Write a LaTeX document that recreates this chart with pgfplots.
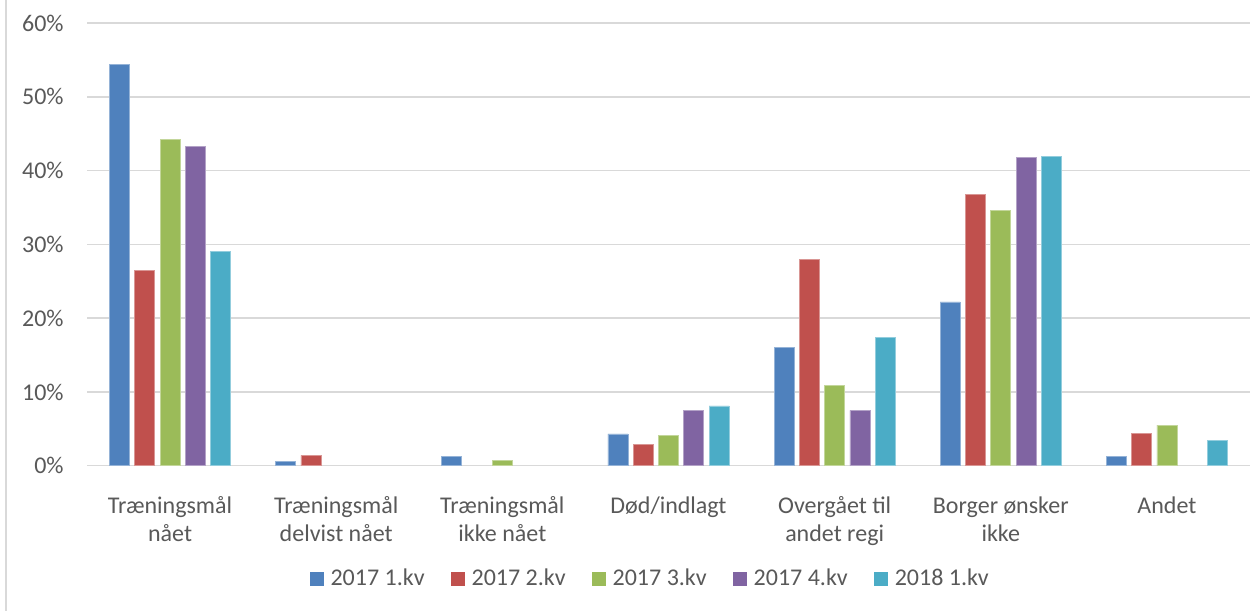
\documentclass[border=0pt]{standalone}
\usepackage{fontspec}
\setmainfont{Carlito}
\usepackage{pgfplots}
\pgfplotsset{compat=1.18}
\definecolor{cA}{HTML}{4F81BD}
\definecolor{cB}{HTML}{C0504D}
\definecolor{cC}{HTML}{9BBB59}
\definecolor{cD}{HTML}{8064A2}
\definecolor{cE}{HTML}{4BACC6}
\definecolor{gridc}{HTML}{D9D9D9}
\definecolor{txt}{HTML}{595959}
\newcommand{\lblfont}{\fontsize{12}{14}\selectfont}
\begin{document}
\begin{tikzpicture}[font=\lblfont]
\useasboundingbox (0,0) rectangle (626pt,-305.5pt);
\fill[white] (0,0) rectangle (626pt,-305.5pt);
\draw[gridc, line width=1pt] (3pt,0) -- (3pt,-305.5pt);
\begin{axis}[
  at={(43.5pt,-232.85pt)}, anchor=south west,
  scale only axis, width=581.5pt, height=221.35pt,
  ybar=2.65pt, bar width=10pt,
  xmin=-0.5, xmax=6.5, ymin=0, ymax=60,
  xtick={0,1,2,3,4,5,6},
  xticklabels={{\strut Træningsmål\\nået},{\strut Træningsmål\\delvist nået},{\strut Træningsmål\\ikke nået},{\strut Død/indlagt},{\strut Overgået til\\andet regi},{\strut Borger ønsker\\ikke},{\strut Andet}},
  ytick={0,10,20,30,40,50,60},
  yticklabels={0\%,10\%,20\%,30\%,40\%,50\%,60\%},
  xmajorgrids=false, ymajorgrids=true,
  major grid style={draw=gridc, line width=0.75pt},
  axis line style={draw=none}, tick style={draw=none},
  tick label style={font=\lblfont, text=txt},
  xticklabel style={anchor=north, inner sep=0pt, yshift=-9.85pt, align=center},
  yticklabel style={anchor=east, inner sep=0pt, xshift=-11.5pt},
  legend columns=5,
  legend image code/.code={\fill[#1,draw=none] (0pt,-3.5pt) rectangle (7pt,3.5pt);},
  legend style={at={(rel axis cs:0.1917,-0.256)}, anchor=west, draw=none, fill=none, inner sep=0pt, outer sep=0pt,
    font=\lblfont, text=txt, nodes={inner sep=0pt},
    /tikz/every odd column/.append style={column sep=3.3pt},
    /tikz/every even column/.append style={column sep=13.2pt}},
]
\addplot[fill=cA, draw=cA!60!white, line width=0.4pt] coordinates {(0,54.4) (1,0.55) (2,1.2) (3,4.3) (4,16.0) (5,22.2) (6,1.2)};
\addplot[fill=cB, draw=cB!60!white, line width=0.4pt] coordinates {(0,26.5) (1,1.4) (3,2.9) (4,28.0) (5,36.8) (6,4.4)};
\addplot[fill=cC, draw=cC!60!white, line width=0.4pt] coordinates {(0,44.2) (2,0.7) (3,4.1) (4,10.9) (5,34.6) (6,5.5)};
\addplot[fill=cD, draw=cD!60!white, line width=0.4pt] coordinates {(0,43.3) (3,7.5) (4,7.5) (5,41.8)};
\addplot[fill=cE, draw=cE!60!white, line width=0.4pt] coordinates {(0,29.1) (3,8.1) (4,17.4) (5,41.9) (6,3.4)};
\legend{2017 1.kv,2017 2.kv,2017 3.kv,2017 4.kv,2018 1.kv}
\end{axis}
\end{tikzpicture}
\end{document}
